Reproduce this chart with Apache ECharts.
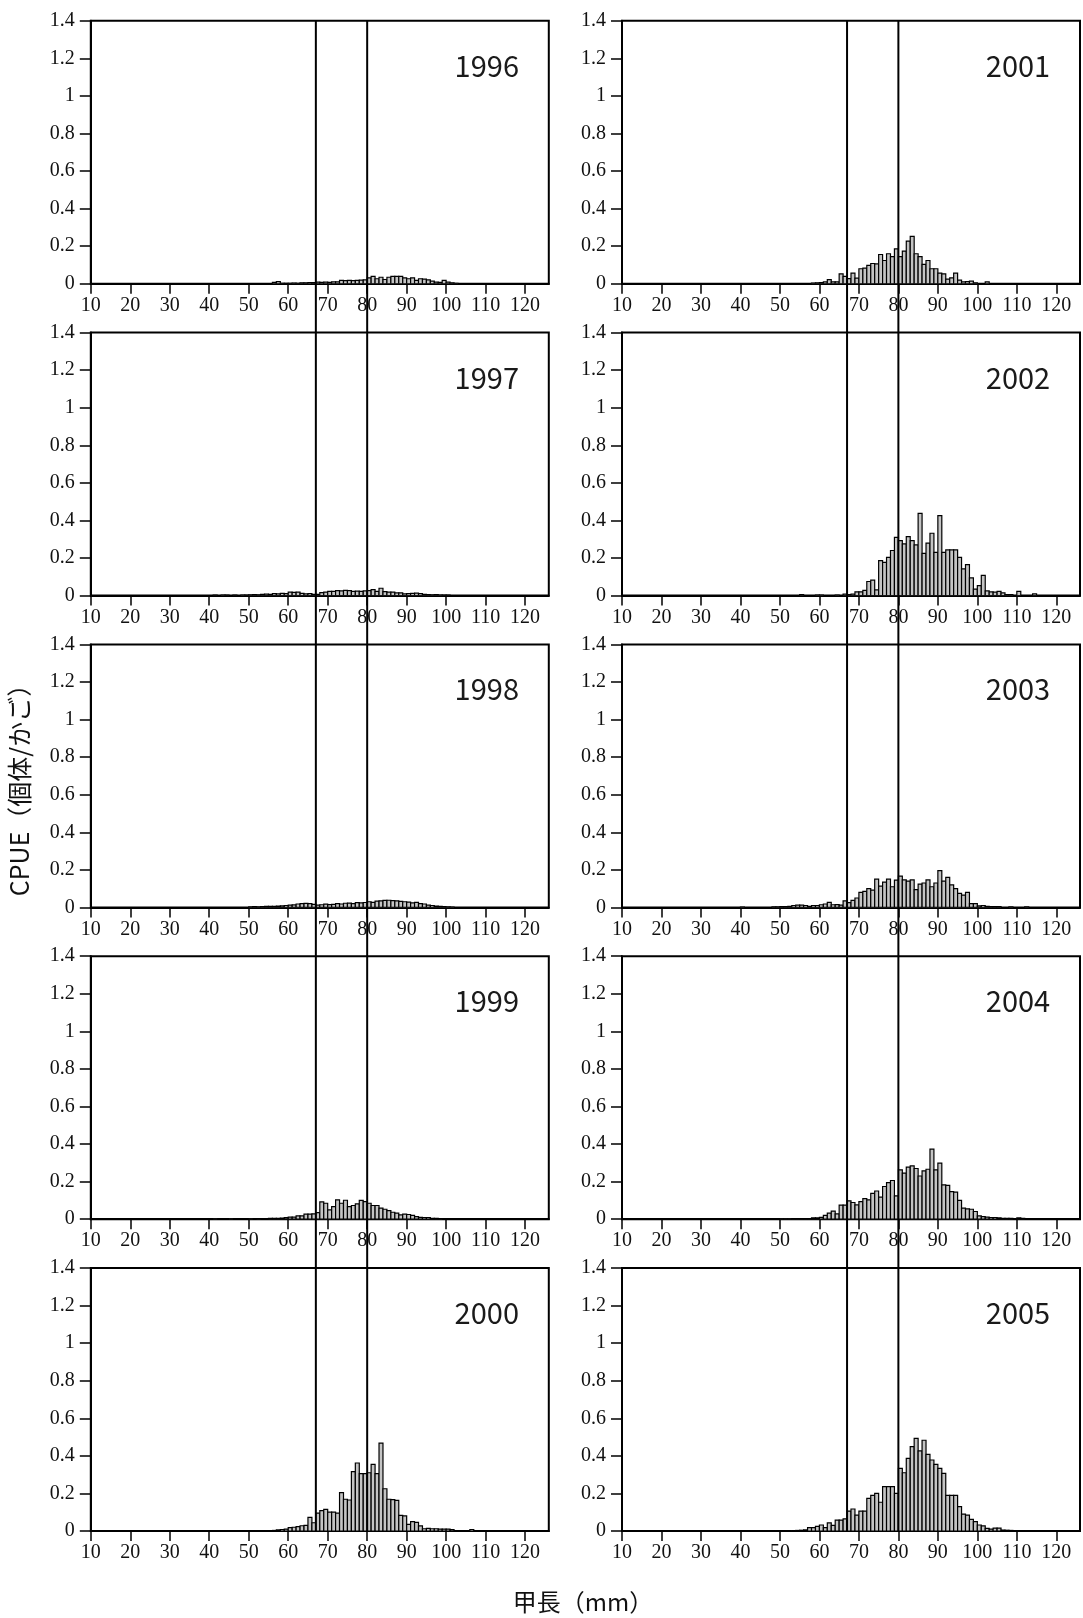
<!DOCTYPE html>
<html>
<head>
<meta charset="utf-8">
<script src="https://cdn.jsdelivr.net/npm/echarts@6/dist/echarts.min.js"></script>
<style>
  html, body { margin: 0; padding: 0; background: #fff; }
  #chart { width: 1083px; height: 1618px; }
</style>
</head>
<body>
<div id="chart"></div>
<script>
// Carapace-length frequency (1 mm classes) of CPUE by year.
// Every array starts at the 40 mm class and runs to the 116 mm class.
const binStart = 40;

const years = ['1996', '1997', '1998', '1999', '2000', '2001', '2002', '2003', '2004', '2005'];

const cpue1996 = [
  0, 0, 0, 0, 0, 0, 0, 0, 0, 0,
  0, 0, 0, 0, 0, 0, 0.008, 0.012, 0.003, 0.002,
  0.003, 0.004, 0.003, 0.005, 0.005, 0.007, 0.006, 0.009, 0.008, 0.009,
  0.008, 0.01, 0.01, 0.018, 0.017, 0.018, 0.017, 0.018, 0.02, 0.021,
  0.032, 0.039, 0.027, 0.035, 0.023, 0.035, 0.039, 0.039, 0.039, 0.032,
  0.027, 0.032, 0.018, 0.027, 0.025, 0.021, 0.014, 0.009, 0.008, 0.018,
  0.009, 0.005, 0.003, 0, 0, 0, 0, 0, 0, 0,
  0, 0, 0, 0, 0, 0, 0
];
const cpue1997 = [
  0, 0.002, 0, 0.003, 0.002, 0, 0.002, 0, 0.003, 0.002,
  0.004, 0.005, 0.004, 0.006, 0.008, 0.007, 0.01, 0.009, 0.012, 0.01,
  0.018, 0.017, 0.019, 0.012, 0.009, 0.01, 0.006, 0.006, 0.016, 0.018,
  0.022, 0.023, 0.027, 0.025, 0.028, 0.026, 0.023, 0.024, 0.022, 0.025,
  0.027, 0.032, 0.023, 0.039, 0.021, 0.018, 0.019, 0.014, 0.015, 0.009,
  0.01, 0.012, 0.013, 0.011, 0.006, 0.005, 0.004, 0.005, 0.003, 0.002,
  0.002, 0, 0, 0, 0, 0, 0, 0, 0, 0,
  0, 0, 0, 0, 0, 0, 0
];
const cpue1998 = [
  0, 0, 0, 0, 0, 0, 0, 0, 0, 0,
  0.003, 0.004, 0.003, 0.004, 0.005, 0.005, 0.006, 0.007, 0.008, 0.01,
  0.012, 0.013, 0.018, 0.02, 0.021, 0.02, 0.016, 0.012, 0.014, 0.017,
  0.015, 0.016, 0.02, 0.018, 0.022, 0.023, 0.02, 0.025, 0.024, 0.026,
  0.03, 0.027, 0.033, 0.035, 0.037, 0.038, 0.036, 0.035, 0.032, 0.03,
  0.028, 0.024, 0.027, 0.02, 0.018, 0.012, 0.01, 0.007, 0.005, 0.004,
  0.003, 0.002, 0, 0, 0, 0, 0, 0, 0, 0,
  0, 0, 0, 0, 0, 0, 0
];
const cpue1999 = [
  0, 0.002, 0, 0, 0, 0.002, 0, 0, 0, 0,
  0.002, 0, 0.003, 0, 0, 0.005, 0.005, 0.005, 0.006, 0.008,
  0.011, 0.011, 0.018, 0.018, 0.027, 0.027, 0.028, 0.035, 0.092, 0.085,
  0.05, 0.067, 0.103, 0.085, 0.101, 0.067, 0.073, 0.082, 0.1, 0.094,
  0.085, 0.073, 0.073, 0.059, 0.053, 0.046, 0.037, 0.032, 0.023, 0.027,
  0.025, 0.02, 0.014, 0.01, 0.009, 0.009, 0.004, 0.004, 0.003, 0,
  0, 0, 0, 0, 0, 0, 0, 0, 0, 0,
  0, 0, 0, 0, 0, 0, 0
];
const cpue2000 = [
  0, 0, 0, 0, 0, 0, 0, 0, 0, 0,
  0, 0, 0, 0, 0, 0, 0.003, 0.006, 0.008, 0.01,
  0.018, 0.02, 0.023, 0.028, 0.03, 0.073, 0.044, 0.095, 0.108, 0.115,
  0.1, 0.1, 0.095, 0.204, 0.169, 0.165, 0.316, 0.362, 0.305, 0.305,
  0.31, 0.355, 0.305, 0.468, 0.225, 0.169, 0.167, 0.163, 0.083, 0.08,
  0.035, 0.05, 0.046, 0.027, 0.012, 0.014, 0.012, 0.012, 0.01, 0.01,
  0.01, 0.007, 0, 0, 0, 0, 0.008, 0, 0, 0,
  0, 0, 0, 0, 0, 0, 0
];
const cpue2001 = [
  0, 0, 0, 0, 0, 0, 0, 0, 0, 0,
  0, 0, 0, 0, 0, 0, 0, 0, 0.004, 0.005,
  0.006, 0.01, 0.022, 0.01, 0.01, 0.053, 0.04, 0.028, 0.057, 0.03,
  0.08, 0.083, 0.098, 0.108, 0.106, 0.156, 0.124, 0.16, 0.145, 0.186,
  0.145, 0.174, 0.227, 0.252, 0.16, 0.145, 0.103, 0.124, 0.08, 0.08,
  0.057, 0.053, 0.025, 0.032, 0.057, 0.02, 0.01, 0.012, 0.014, 0.005,
  0, 0, 0.01, 0, 0, 0, 0, 0, 0, 0,
  0, 0, 0, 0, 0, 0, 0
];
const cpue2002 = [
  0, 0, 0, 0, 0, 0, 0, 0, 0, 0,
  0, 0, 0, 0, 0, 0.005, 0, 0, 0, 0.003,
  0.003, 0, 0, 0, 0.003, 0, 0.008, 0.005, 0.008, 0.02,
  0.02, 0.028, 0.075, 0.082, 0.03, 0.186, 0.177, 0.204, 0.24, 0.31,
  0.293, 0.275, 0.314, 0.293, 0.27, 0.438, 0.225, 0.279, 0.332, 0.23,
  0.426, 0.23, 0.243, 0.243, 0.243, 0.204, 0.142, 0.165, 0.094, 0.035,
  0.053, 0.108, 0.025, 0.02, 0.018, 0.022, 0.015, 0.005, 0.005, 0,
  0.023, 0, 0, 0, 0.009, 0, 0
];
const cpue2003 = [
  0.002, 0, 0, 0, 0, 0, 0, 0, 0.003, 0.003,
  0.004, 0.004, 0.005, 0.01, 0.012, 0.012, 0.01, 0.006, 0.01, 0.01,
  0.014, 0.018, 0.027, 0.014, 0.015, 0.012, 0.035, 0.025, 0.037, 0.05,
  0.08, 0.085, 0.1, 0.092, 0.15, 0.113, 0.135, 0.15, 0.11, 0.145,
  0.167, 0.146, 0.14, 0.146, 0.095, 0.124, 0.13, 0.146, 0.11, 0.13,
  0.196, 0.14, 0.16, 0.12, 0.1, 0.075, 0.065, 0.08, 0.02, 0.02,
  0.008, 0.01, 0.005, 0.004, 0.004, 0.004, 0, 0, 0.003, 0,
  0, 0, 0.003, 0, 0, 0, 0
];
const cpue2004 = [
  0, 0, 0, 0, 0, 0, 0, 0, 0, 0,
  0.002, 0.002, 0.002, 0.003, 0.003, 0.003, 0.003, 0.003, 0.007, 0.007,
  0.01, 0.02, 0.032, 0.043, 0.028, 0.075, 0.075, 0.098, 0.089, 0.076,
  0.094, 0.11, 0.103, 0.138, 0.15, 0.117, 0.174, 0.195, 0.206, 0.124,
  0.263, 0.245, 0.277, 0.284, 0.27, 0.23, 0.257, 0.266, 0.373, 0.263,
  0.298, 0.183, 0.18, 0.147, 0.144, 0.1, 0.059, 0.055, 0.053, 0.041,
  0.018, 0.014, 0.011, 0.009, 0.009, 0.007, 0.004, 0.004, 0.004, 0,
  0.007, 0.005, 0, 0, 0, 0, 0
];
const cpue2005 = [
  0, 0, 0, 0, 0, 0, 0, 0, 0, 0,
  0, 0, 0, 0.002, 0.003, 0.004, 0.006, 0.018, 0.018, 0.025,
  0.032, 0.018, 0.043, 0.03, 0.058, 0.058, 0.065, 0.106, 0.117, 0.085,
  0.106, 0.106, 0.174, 0.19, 0.2, 0.153, 0.236, 0.236, 0.236, 0.2,
  0.333, 0.31, 0.387, 0.449, 0.493, 0.426, 0.483, 0.408, 0.378, 0.355,
  0.333, 0.307, 0.19, 0.19, 0.19, 0.13, 0.09, 0.085, 0.062, 0.05,
  0.032, 0.027, 0.014, 0.01, 0.015, 0.015, 0.005, 0.004, 0.003, 0,
  0, 0, 0, 0, 0, 0, 0
];

const seriesByYear = [cpue1996, cpue1997, cpue1998, cpue1999, cpue2000,
                      cpue2001, cpue2002, cpue2003, cpue2004, cpue2005];

const xTicks = [10, 20, 30, 40, 50, 60, 70, 80, 90, 100, 110, 120];
const xRange = [10, 126];
const yRange = [0, 1.4];
const yStep = 0.2;
const refLengths = [67, 80];   // reference carapace lengths (mm)

const yAxisTitle = 'CPUE（個体/かご）';
const xAxisTitle = '甲長（mm）';

// ---- layout ----
const colLeft = [90.8, 622];
const plotW = 458;
const rowTop0 = 20.8;
const rowPitch = 311.8;
const plotH = 263;
const serif = 'Liberation Serif, Times New Roman, serif';
const gothic = 'Noto Sans CJK JP, Noto Sans, sans-serif';

function renderBar(params, api) {
  const k = api.value(0);
  const v = api.value(1);
  const p0 = api.coord([k, 0]);
  const p1 = api.coord([k + 1, v]);
  return {
    type: 'rect',
    shape: { x: p0[0], y: p1[1], width: p1[0] - p0[0], height: p0[1] - p1[1] },
    style: { fill: '#c4c4c4', stroke: '#000000', lineWidth: 1.2 }
  };
}

const grids = [], xAxes = [], yAxes = [], series = [], graphics = [];

seriesByYear.forEach((vals, i) => {
  const col = Math.floor(i / 5);
  const row = i % 5;
  const top = rowTop0 + row * rowPitch;
  grids.push({
    left: colLeft[col], top: top, width: plotW, height: plotH,
    show: true, borderColor: '#000', borderWidth: 2, backgroundColor: 'transparent'
  });
  xAxes.push({
    gridIndex: i, type: 'value', min: xRange[0], max: xRange[1], interval: 10,
    axisLine: { show: true, onZero: false, lineStyle: { color: '#000', width: 2 } },
    axisTick: { show: true, inside: false, length: 10, customValues: xTicks,
                lineStyle: { color: '#000', width: 1.5 } },
    axisLabel: { show: true, customValues: xTicks, margin: 12,
                 fontFamily: serif, fontSize: 20, color: '#111',
                 formatter: v => (xTicks.indexOf(v) >= 0 ? String(v) : '') },
    splitLine: { show: false }
  });
  yAxes.push({
    gridIndex: i, type: 'value', min: yRange[0], max: yRange[1], interval: yStep,
    axisLine: { show: true, lineStyle: { color: '#000', width: 2 } },
    axisTick: { show: true, inside: false, length: 11, lineStyle: { color: '#000', width: 1.5 } },
    axisLabel: { show: true, margin: 16, fontFamily: serif, fontSize: 20, color: '#111' },
    splitLine: { show: false }
  });
  series.push({
    type: 'custom', xAxisIndex: i, yAxisIndex: i, renderItem: renderBar, clip: true,
    silent: true,
    data: vals.map((v, j) => [binStart + j, v]).filter(d => d[1] > 0)
  });
  graphics.push({
    type: 'text',
    x: colLeft[col] + plotW - 62,
    y: top + 45,
    style: { text: years[i], font: '29px ' + gothic, fill: '#1a1a1a',
             align: 'center', verticalAlign: 'middle' }
  });
});

// Reference length lines running through every panel of a column
[0, 1].forEach(col => {
  const gi = grids.length;
  grids.push({ left: colLeft[col], top: rowTop0, width: plotW,
               height: 4 * rowPitch + plotH, show: false });
  xAxes.push({ gridIndex: gi, type: 'value', min: xRange[0], max: xRange[1], show: false });
  yAxes.push({ gridIndex: gi, type: 'value', min: 0, max: 1, show: false });
  refLengths.forEach(len => {
    series.push({
      type: 'line', xAxisIndex: gi, yAxisIndex: gi, silent: true, symbol: 'none',
      lineStyle: { color: '#000', width: 2 }, z: 5,
      data: [[len, 0], [len, 1]]
    });
  });
});

graphics.push({
  type: 'text', x: 19, y: 784, rotation: Math.PI / 2,
  style: { text: yAxisTitle, font: '25px ' + gothic, fill: '#111',
           align: 'center', verticalAlign: 'middle' }
});
graphics.push({
  type: 'text', x: 583, y: 1602,
  style: { text: xAxisTitle, font: '24px ' + gothic, fill: '#111',
           align: 'center', verticalAlign: 'middle' }
});

const chart = echarts.init(document.getElementById('chart'), null, { renderer: 'canvas' });
chart.setOption({
  animation: false,
  backgroundColor: '#fff',
  grid: grids,
  xAxis: xAxes,
  yAxis: yAxes,
  series: series,
  graphic: graphics
});
</script>
</body>
</html>
